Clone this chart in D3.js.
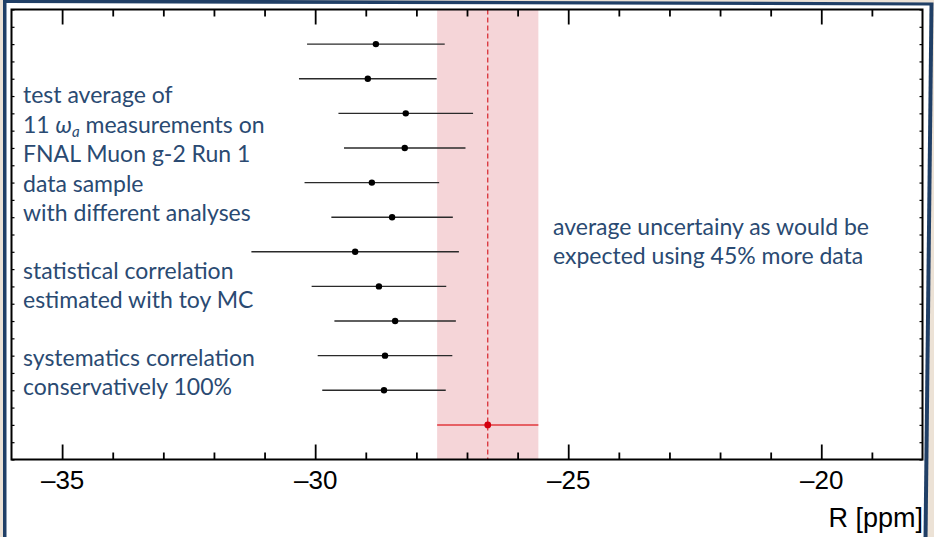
<!DOCTYPE html>
<html>
<head>
<meta charset="utf-8">
<script src="https://cdn.jsdelivr.net/npm/d3@7"></script>
<style>
  html, body { margin: 0; padding: 0; background: #ece2d6; }
  svg { display: block; }
</style>
</head>
<body>
<svg id="chart" width="934" height="537"></svg>
<script>
// ---- data ----
const measurementRows = [1, 2, 3, 4, 5, 6, 7, 8, 9, 10, 11];
const measurementValues = [-28.80, -28.96, -28.21, -28.23, -28.88, -28.48, -29.21, -28.74, -28.42, -28.62, -28.64];
const measurementErrors = [1.36, 1.36, 1.33, 1.20, 1.33, 1.20, 2.05, 1.33, 1.20, 1.33, 1.22];
const averageRow = [12];
const averageValue = [-26.59];
const averageError = [1.00];
const majorTicks = [-35, -30, -25, -20];
const minorTicks = d3.range(-36, -17, 1);
const rowTicks = d3.range(0, 13.01, 0.5);
const leftNotes = [
  ["test average of"],
  ["11 ", "ω", "a", " measurements on"],
  ["FNAL Muon g-2 Run 1"],
  ["data sample"],
  ["with different analyses"],
  ["statistical correlation"],
  ["estimated with toy MC"],
  ["systematics correlation"],
  ["conservatively 100%"]
];
const rightNotes = ["average uncertainy as would be", "expected using 45% more data"];
const xTitle = "R [ppm]";

// ---- layout ----
const svg = d3.select("#chart");
const W = 934, H = 537;
const L = 11.5, R = 922.5, T = 9.5, B = 459.5;

// slide frame
svg.append("rect").attr("width", W).attr("height", H).attr("fill", "#ece2d6");
svg.append("path").attr("d", "M3,-1 L933.5,2.5 L927.5,540 L3,540 Z").attr("fill", "#203f66");
svg.append("path").attr("d", "M6.5,3 L929.5,5.5 L923.5,540 L6.5,540 Z").attr("fill", "#ffffff");

const x = d3.scaleLinear().domain([-36, -18]).range([L, R]);
const y = d3.scaleLinear().domain([0, 13]).range([T, B]);

const g = svg.append("g");

// uncertainty band
g.append("rect")
  .attr("x", x(averageValue[0] - averageError[0]))
  .attr("y", T)
  .attr("width", x(averageValue[0] + averageError[0]) - x(averageValue[0] - averageError[0]))
  .attr("height", B - T)
  .attr("fill", "#f5d5d8");

// dashed average line
g.append("line")
  .attr("x1", x(averageValue[0])).attr("x2", x(averageValue[0]))
  .attr("y1", T).attr("y2", B)
  .attr("stroke", "#d8232a").attr("stroke-width", 1.2)
  .attr("stroke-dasharray", "5,3");

// measurements
const meas = measurementRows.map((r, i) => ({ r, v: measurementValues[i], e: measurementErrors[i] }));
g.selectAll("line.err").data(meas).enter().append("line")
  .attr("class", "err")
  .attr("x1", d => x(d.v - d.e)).attr("x2", d => x(d.v + d.e))
  .attr("y1", d => y(d.r)).attr("y2", d => y(d.r))
  .attr("stroke", "#2a2a2a").attr("stroke-width", 1.4);
g.selectAll("circle.pt").data(meas).enter().append("circle")
  .attr("class", "pt")
  .attr("cx", d => x(d.v)).attr("cy", d => y(d.r)).attr("r", 3.2)
  .attr("fill", "#000");

// average
const avg = averageRow.map((r, i) => ({ r, v: averageValue[i], e: averageError[i] }));
g.selectAll("line.aerr").data(avg).enter().append("line")
  .attr("class", "aerr")
  .attr("x1", d => x(d.v - d.e)).attr("x2", d => x(d.v + d.e))
  .attr("y1", d => y(d.r)).attr("y2", d => y(d.r))
  .attr("stroke", "#e0393e").attr("stroke-width", 1.5);
g.selectAll("circle.apt").data(avg).enter().append("circle")
  .attr("class", "apt")
  .attr("cx", d => x(d.v)).attr("cy", d => y(d.r)).attr("r", 3.4)
  .attr("fill", "#d4000f");

// axes (inward ticks)
function styleAxis(sel) {
  sel.select(".domain").remove();
  sel.selectAll(".tick line").attr("stroke", "#000").attr("stroke-width", 1.8);
}
const minorOnly = minorTicks.filter(d => majorTicks.indexOf(d) < 0 && d > -36 && d < -18);
const bottomMinor = svg.append("g").attr("transform", `translate(0,${B})`)
  .call(d3.axisBottom(x).tickValues(minorOnly).tickSize(-7).tickFormat(""));
styleAxis(bottomMinor);
const bottomMajor = svg.append("g").attr("transform", `translate(0,${B})`)
  .call(d3.axisBottom(x).tickValues(majorTicks).tickSize(-15).tickFormat(d => "\u2013" + Math.abs(d)));
styleAxis(bottomMajor);
bottomMajor.selectAll("text")
  .attr("y", 29.5).attr("dy", 0)
  .attr("font-family", "Liberation Sans, Arial, sans-serif")
  .attr("font-size", 26).attr("fill", "#000");

const topMinor = svg.append("g").attr("transform", `translate(0,${T})`)
  .call(d3.axisTop(x).tickValues(minorOnly).tickSize(-7).tickFormat(""));
styleAxis(topMinor);
const topMajor = svg.append("g").attr("transform", `translate(0,${T})`)
  .call(d3.axisTop(x).tickValues(majorTicks).tickSize(-15).tickFormat(""));
styleAxis(topMajor);

const leftAx = svg.append("g").attr("transform", `translate(${L},0)`)
  .call(d3.axisLeft(y).tickValues(rowTicks).tickSize(-3).tickFormat(""));
styleAxis(leftAx);
leftAx.selectAll(".tick line").attr("stroke-width", 1.2);
const rightAx = svg.append("g").attr("transform", `translate(${R},0)`)
  .call(d3.axisRight(y).tickValues(rowTicks).tickSize(-3).tickFormat(""));
styleAxis(rightAx);
rightAx.selectAll(".tick line").attr("stroke-width", 1.2);

// frame
svg.append("rect")
  .attr("x", L).attr("y", T).attr("width", R - L).attr("height", B - T)
  .attr("fill", "none").attr("stroke", "#000").attr("stroke-width", 2);

// axis title
svg.append("text")
  .attr("x", R + 0.5).attr("y", 527)
  .attr("text-anchor", "end")
  .attr("font-family", "Liberation Sans, Arial, sans-serif")
  .attr("font-size", 27).attr("fill", "#000")
  .text(xTitle);

// annotations
const noteColor = "#2a4a72";
const noteFont = "Lato, 'Open Sans', sans-serif";
const noteSize = 23;
const leftBaselines = [103, 133, 162, 191.5, 221, 278.5, 308, 366, 395];
leftNotes.forEach((parts, i) => {
  const t = svg.append("text")
    .attr("x", 23).attr("y", leftBaselines[i])
    .attr("font-family", noteFont).attr("font-size", noteSize).attr("fill", noteColor);
  if (parts.length === 1) {
    t.text(parts[0]);
  } else {
    t.append("tspan").text(parts[0]);
    t.append("tspan").attr("font-style", "italic").text(parts[1]);
    t.append("tspan").attr("font-style", "italic").attr("font-size", 15).attr("dy", 4).text(parts[2]);
    t.append("tspan").attr("dy", -4).text(parts[3]);
  }
});
const rightBaselines = [235, 264];
rightNotes.forEach((s, i) => {
  svg.append("text")
    .attr("x", 553).attr("y", rightBaselines[i])
    .attr("font-family", noteFont).attr("font-size", noteSize).attr("fill", noteColor)
    .text(s);
});
</script>
</body>
</html>
